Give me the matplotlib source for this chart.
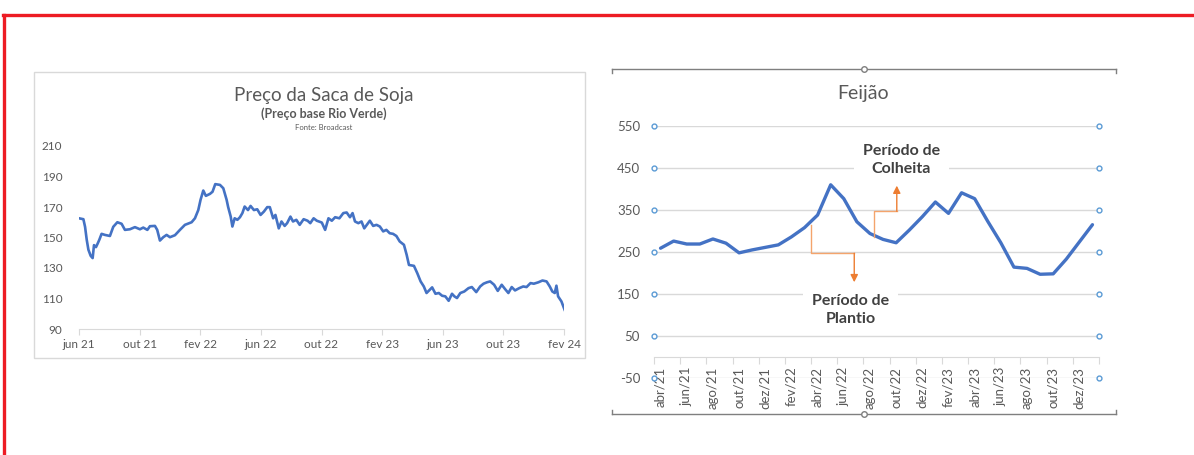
import matplotlib
matplotlib.use("Agg")
import matplotlib.pyplot as plt
from matplotlib.lines import Line2D
from matplotlib.patches import Rectangle
import numpy as np

plt.rcParams['font.family'] = ['Lato', 'DejaVu Sans']
plt.rcParams['axes.unicode_minus'] = False

# Soja: meses desde jun/21 e preco (R$/saca)
soja_mes = [0.00, 0.29, 0.40, 0.51, 0.62, 0.77, 0.90, 0.99, 1.12, 1.23, 1.34, 1.49, 1.71, 2.04,
            2.26, 2.53, 2.81, 3.03, 3.36, 3.69, 4.02, 4.24, 4.51, 4.68, 5.01, 5.16, 5.34, 5.56,
            5.78, 6.00, 6.33, 6.66, 6.99, 7.43, 7.65, 7.87, 8.02, 8.20, 8.37, 8.64, 8.81, 8.99,
            9.30, 9.52, 9.74, 9.84, 10.01, 10.12, 10.27, 10.45, 10.62, 10.78, 10.93, 11.15,
            11.32, 11.54, 11.76, 11.98, 12.20, 12.42, 12.59, 12.81, 12.96, 13.18, 13.36, 13.57,
            13.73, 13.95, 14.12, 14.34, 14.56, 14.82, 15.08, 15.26, 15.48, 15.69, 16.02, 16.24,
            16.46, 16.68, 16.90, 17.18, 17.44, 17.66, 17.88, 18.05, 18.21, 18.43, 18.64, 18.82,
            19.04, 19.19, 19.41, 19.63, 19.85, 20.07, 20.28, 20.50, 20.72, 20.94, 21.16, 21.44,
            21.62, 21.77, 22.10, 22.32, 22.54, 22.75, 22.93, 23.15, 23.30, 23.52, 23.74, 23.96,
            24.17, 24.39, 24.61, 24.77, 24.94, 25.16, 25.42, 25.70, 25.92, 26.21, 26.47, 26.69,
            26.91, 27.13, 27.39, 27.63, 27.89, 28.11, 28.33, 28.55, 28.77, 29.05, 29.31, 29.53,
            29.79, 30.01, 30.30, 30.58, 30.85, 31.06, 31.23, 31.39, 31.50, 31.61, 31.83, 32.04]
soja_preco = [162.6, 162.0, 157.0, 148.5, 142.0, 138.0, 136.5, 145.0, 143.7, 146.0, 148.5, 152.4,
              151.7, 151.0, 157.0, 160.0, 159.0, 155.0, 155.4, 156.8, 155.4, 156.5, 155.0, 157.4,
              157.6, 155.0, 148.0, 150.2, 151.7, 150.2, 151.5, 155.0, 158.3, 160.0, 162.6, 168.0,
              174.7, 180.8, 177.3, 178.6, 180.0, 185.0, 184.5, 182.3, 174.7, 170.0, 163.7, 157.2,
              162.6, 161.6, 163.3, 166.0, 170.3, 168.0, 170.7, 168.0, 168.5, 164.8, 167.0, 169.9,
              169.9, 162.6, 164.8, 156.0, 160.5, 157.6, 159.4, 163.7, 160.5, 161.6, 158.3, 162.0,
              161.0, 159.4, 162.6, 161.0, 159.8, 155.0, 162.6, 161.0, 163.3, 162.6, 166.0, 166.4,
              163.3, 166.0, 160.5, 159.4, 160.5, 156.0, 159.0, 161.0, 157.6, 158.3, 157.2, 154.0,
              155.0, 152.8, 152.4, 151.0, 147.4, 145.2, 138.6, 132.0, 131.4, 126.6, 121.2, 117.9,
              113.6, 115.8, 117.3, 113.1, 113.6, 111.8, 111.4, 108.5, 113.1, 111.4, 110.3, 113.6,
              114.6, 116.8, 117.5, 114.2, 117.9, 119.7, 120.6, 121.2, 119.0, 115.0, 119.0, 116.2,
              113.6, 117.5, 115.3, 116.8, 117.9, 117.5, 120.1, 119.7, 120.6, 121.8, 121.2, 117.9,
              114.6, 113.6, 118.4, 111.4, 108.1, 102.6]
soja_ticks = [0, 4, 8, 12, 16, 20, 24, 28, 32]
soja_labels = ['jun 21', 'out 21', 'fev 22', 'jun 22', 'out 22', 'fev 23', 'jun 23', 'out 23', 'fev 24']

# Feijao: mensal abr/21 a jan/24
feijao_meses = ['abr/21', 'mai/21', 'jun/21', 'jul/21', 'ago/21', 'set/21', 'out/21', 'nov/21',
                'dez/21', 'jan/22', 'fev/22', 'mar/22', 'abr/22', 'mai/22', 'jun/22', 'jul/22',
                'ago/22', 'set/22', 'out/22', 'nov/22', 'dez/22', 'jan/23', 'fev/23', 'mar/23',
                'abr/23', 'mai/23', 'jun/23', 'jul/23', 'ago/23', 'set/23', 'out/23', 'nov/23',
                'dez/23', 'jan/24']
feijao = [259, 276, 269, 269, 281, 271, 248, 255, 261, 267, 286, 308, 338, 410, 377, 322, 294,
          280, 272, 302, 334, 369, 342, 391, 377, 323, 272, 214, 211, 197, 198, 233, 274, 315]
feijao_yticks = [-50, 50, 150, 250, 350, 450, 550]

W, H = 1194, 455


def fx(x):
    return x / W


def fy(y):
    return 1 - y / H


fig = plt.figure(figsize=(W / 100, H / 100), dpi=100)

# moldura vermelha
fig.add_artist(Line2D([fx(3), 1], [fy(15), fy(15)], color='#ED1C24', lw=2.4))
fig.add_artist(Line2D([fx(4), fx(4)], [fy(15), 0], color='#ED1C24', lw=2.4))

# ---- grafico da soja
fig.add_artist(Rectangle((fx(34), fy(358)), (585 - 34) / W, (358 - 72) / H,
                         transform=fig.transFigure, fill=False, ec='#D9D9D9', lw=1))
ax1 = fig.add_axes([fx(79), fy(329), 485 / W, 183 / H])
ax1.plot(soja_mes, soja_preco, color='#4472C4', lw=1.9)
ax1.set_xlim(0, 32)
ax1.set_ylim(90, 210)
ax1.set_yticks(range(90, 211, 20))
ax1.set_xticks(soja_ticks)
ax1.set_xticklabels(soja_labels)
for s in ['top', 'right', 'left']:
    ax1.spines[s].set_visible(False)
ax1.spines['bottom'].set_color('#D9D9D9')
ax1.tick_params(axis='x', length=4, color='#D9D9D9', labelcolor='#595959', labelsize=8.5, pad=3)
ax1.tick_params(axis='y', length=0, labelcolor='#595959', labelsize=8.5, pad=12)
fig.text(fx(324), fy(96), 'Preço da Saca de Soja', ha='center', va='center', fontsize=13.5, color='#595959')
fig.text(fx(324), fy(114), '(Preço base Rio Verde)', ha='center', va='center', fontsize=9,
         color='#595959', fontweight='bold')
fig.text(fx(324), fy(127), 'Fonte: Broadcast', ha='center', va='center', fontsize=5.5, color='#595959')

# ---- grafico do feijao
fr = '#7F7F7F'
for yy in [69, 414]:
    fig.add_artist(Line2D([fx(612), fx(1116)], [fy(yy), fy(yy)], color=fr, lw=1))
    d = 4 if yy == 69 else -4
    for xx in [612, 1116]:
        fig.add_artist(Line2D([fx(xx), fx(xx)], [fy(yy), fy(yy + d)], color=fr, lw=1))
    fig.add_artist(Line2D([fx(864)], [fy(yy)], marker='o', ms=4, mfc='white', mec=fr, mew=1))

ax2 = fig.add_axes([fx(654), fy(378), 445 / W, 252 / H])
x = np.arange(len(feijao))
ax2.plot(x, feijao, color='#4472C4', lw=2.4, zorder=3, solid_capstyle='round')
ax2.set_xlim(-0.5, len(feijao) - 0.5)
ax2.set_ylim(-50, 550)
for v in feijao_yticks:
    ax2.axhline(v, color='#D9D9D9', lw=1, zorder=0)
    ax2.plot([-0.5, len(feijao) - 0.5], [v, v], 'o', ms=3.5, mfc='white', mec='#5B9BD5',
             mew=1, clip_on=False, zorder=5)
ax2.set_yticks(feijao_yticks)
for s in ['top', 'right', 'left']:
    ax2.spines[s].set_visible(False)
ax2.spines['bottom'].set_position(('data', 0))
ax2.spines['bottom'].set_color('#D9D9D9')
ax2.set_xticks(np.arange(-0.5, len(feijao), 2))
ax2.set_xticklabels([])
ax2.set_xticks(x[::2], minor=True)
ax2.set_xticklabels(feijao_meses[::2], minor=True, rotation=90)
ax2.tick_params(axis='x', which='major', length=5, color='#D9D9D9')
ax2.tick_params(axis='x', which='minor', length=0, labelsize=9.5, labelcolor='#595959', pad=7)
ax2.tick_params(axis='y', length=0, labelsize=9.5, labelcolor='#595959', pad=10)
fig.text(fx(863), fy(93), 'Feijão', ha='center', va='center', fontsize=14, color='#595959')

box = dict(boxstyle='square,pad=0.55', fc='white', ec='none')
ax2.text(18.4, 469, 'Período de\nColheita', ha='center', va='center', fontsize=11.5,
         color='#404040', fontweight='bold', linespacing=1.3, bbox=box, zorder=2)
ax2.text(14.5, 112, 'Período de\nPlantio', ha='center', va='center', fontsize=11.5,
         color='#404040', fontweight='bold', linespacing=1.3, bbox=box, zorder=2)

laranja = '#F4A46C'
ax2.plot([16.3, 16.3, 18.05], [286, 347, 347], color=laranja, lw=1, zorder=4)
ax2.annotate('', xy=(18.05, 408), xytext=(18.05, 347),
             arrowprops=dict(arrowstyle='-|>', color='#ED7D31', lw=1, mutation_scale=11,
                             shrinkA=0, shrinkB=0), zorder=4)
ax2.plot([11.5, 11.5, 14.8], [314, 247, 247], color=laranja, lw=1, zorder=4)
ax2.annotate('', xy=(14.8, 178), xytext=(14.8, 247),
             arrowprops=dict(arrowstyle='-|>', color='#ED7D31', lw=1, mutation_scale=11,
                             shrinkA=0, shrinkB=0), zorder=4)

fig.savefig('out.png', dpi=100)
